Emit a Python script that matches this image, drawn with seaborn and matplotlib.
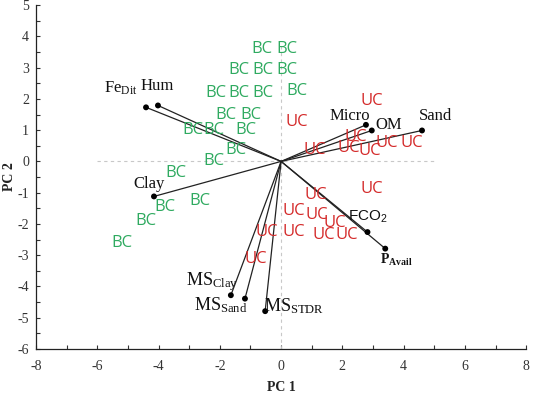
import matplotlib
matplotlib.use("Agg")
import matplotlib.pyplot as plt
import seaborn as sns
import pandas as pd
from matplotlib.ticker import MultipleLocator

# ---- data ----
bc_x = [-0.62, 0.20, -1.37, -0.59, 0.20, -2.12, -1.37, -0.59, 0.52, -1.80, -0.98,
        -2.88, -2.19, -1.14, -1.47, -2.19, -3.43, -3.79, -2.65, -4.41, -5.20]
bc_y = [3.61, 3.61, 2.91, 2.91, 2.91, 2.20, 2.20, 2.20, 2.24, 1.47, 1.47,
        0.99, 0.99, 0.99, 0.38, 0.00, -0.38, -1.47, -1.28, -1.92, -2.62]

uc_x = [2.97, 0.52, 1.11, 2.22, 2.45, 2.88, 3.46, 4.28, 2.97, 1.14, 0.42,
        1.18, 1.76, -0.46, 0.42, 1.41, 2.16, -0.82]
uc_y = [1.92, 1.25, 0.35, 0.42, 0.77, 0.32, 0.58, 0.58, -0.89, -1.09, -1.60,
        -1.73, -1.98, -2.27, -2.27, -2.36, -2.36, -3.13]

var_names = ["FeDit", "Hum", "Clay", "Micro", "OM", "Sand", "FCO2", "PAvail",
             "MSClay", "MSSand", "MSSTDR"]
var_x = [-4.41, -4.02, -4.15, 2.77, 2.96, 4.60, 2.82, 3.40, -1.64, -1.18, -0.52]
var_y = [1.73, 1.79, -1.12, 1.17, 0.99, 0.99, -2.26, -2.79, -4.28, -4.39, -4.79]

var_labels = [r"Fe$_{Dit}$", "Hum", "Clay", "Micro", "OM", "Sand", r"FCO$_2$",
              r"P$_{Avail}$", r"MS$_{Clay}$", r"MS$_{Sand}$", r"MS$_{STDR}$"]

x_ticks = [-8, -6, -4, -2, 0, 2, 4, 6, 8]
y_ticks = [-6, -5, -4, -3, -2, -1, 0, 1, 2, 3, 4, 5]

# ---- layout (label anchor positions) ----
label_pos = {
    "FeDit": (-5.22, 2.33), "Hum": (-4.05, 2.40), "Clay": (-4.31, -0.73),
    "Micro": (2.25, 1.44), "OM": (3.50, 1.15), "Sand": (5.03, 1.44),
    "FCO2": (2.84, -1.76), "PAvail": (3.76, -3.16), "MSClay": (-2.25, -3.83),
    "MSSand": (-1.99, -4.60), "MSSTDR": (0.42, -4.63),
}

sns.set_theme(style="white")
plt.rcParams["font.family"] = ["Liberation Serif", "DejaVu Serif"]
plt.rcParams["mathtext.default"] = "regular"
plt.rcParams["axes.unicode_minus"] = False

fig = plt.figure(figsize=(5.38, 3.93), dpi=100)
ax = fig.add_axes([0.067, 0.112, 0.911, 0.875])

# reference dashed lines
ax.plot([-6, 5], [0, 0], ls=(0, (3, 3)), color="#c8c8c8", lw=0.8, zorder=1)
ax.plot([0, 0], [-6, 3.8], ls=(0, (3, 3)), color="#c8c8c8", lw=0.8, zorder=1)

# loading vectors
for vx, vy in zip(var_x, var_y):
    ax.plot([0, vx], [0, vy], color="#222222", lw=0.9, zorder=2)
vdf = pd.DataFrame({"x": var_x, "y": var_y, "name": var_names})
sns.scatterplot(data=vdf, x="x", y="y", color="black", s=18, edgecolor="none",
                ax=ax, zorder=3, legend=False)

# score labels
green = "#2faa60"
red = "#d42a2a"
for x, y in zip(bc_x, bc_y):
    ax.text(x, y, "BC", color=green, fontsize=12, family=["Open Sans", "DejaVu Sans"],
            ha="center", va="center", zorder=4)
for x, y in zip(uc_x, uc_y):
    ax.text(x, y, "UC", color=red, fontsize=12, family=["Open Sans", "DejaVu Sans"],
            ha="center", va="center", zorder=4)

# vector labels
for name, lab in zip(var_names, var_labels):
    px, py = label_pos[name]
    kw = dict(ha="center", va="center", color="#111111", zorder=5)
    if name == "FCO2":
        ax.text(px, py, lab, fontsize=11, family=["Liberation Sans", "DejaVu Sans"], **kw)
    elif name == "PAvail":
        ax.text(px, py, lab, fontsize=10, fontweight="bold", **kw)
    elif name.startswith("MS"):
        ax.text(px, py, lab, fontsize=13, **kw)
    else:
        ax.text(px, py, lab, fontsize=12, **kw)

ax.set_xlim(-8, 8)
ax.set_ylim(-6, 5)
ax.set_xticks(x_ticks)
ax.set_yticks(y_ticks)
ax.xaxis.set_minor_locator(MultipleLocator(1))
ax.yaxis.set_minor_locator(MultipleLocator(0.5))
ax.tick_params(which="both", direction="in", length=3, width=0.8, color="#333333",
               bottom=True, left=True)
ax.tick_params(axis="both", labelsize=10, labelcolor="#333333")
ax.tick_params(axis="x", pad=8)
ax.tick_params(axis="y", pad=5)
for s in ["top", "right"]:
    ax.spines[s].set_visible(False)
for s in ["left", "bottom"]:
    ax.spines[s].set_color("#222222")
    ax.spines[s].set_linewidth(0.9)

ax.set_xlabel("PC 1", fontsize=10, fontweight="bold", color="#222222", labelpad=6)
ax.set_ylabel("PC 2", fontsize=10, fontweight="bold", color="#222222")
ax.yaxis.set_label_coords(-0.04, 0.5)

fig.savefig("out.png", dpi=100)
